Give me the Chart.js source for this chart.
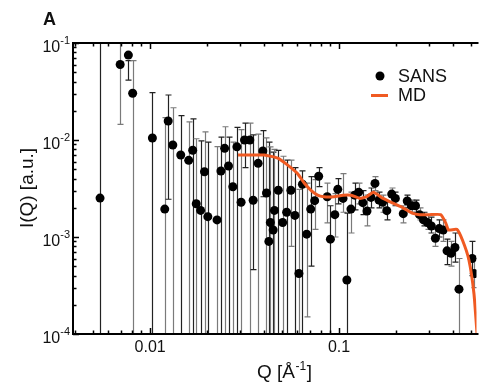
<!DOCTYPE html>
<html>
<head>
<meta charset="utf-8">
<script src="https://cdn.jsdelivr.net/npm/chart.js@4"></script>
<style>
html, body { margin: 0; padding: 0; background: #fff; }
</style>
</head>
<body>
<canvas id="sansChart" width="481" height="385"></canvas>
<script>
// SANS points: Q, intensity, lower / upper end of error bar (null = runs off the axis)
const qSans = [0.00543, 0.00694, 0.00767, 0.00808, 0.01028, 0.01195, 0.01246, 0.01318, 0.01452, 0.0160,
    0.0168, 0.01754, 0.0185, 0.0194, 0.0202, 0.0226, 0.0237, 0.0248, 0.026, 0.0274,
    0.0288, 0.0303, 0.0316, 0.0337, 0.0351, 0.0373, 0.0395, 0.0413, 0.0425, 0.0433,
    0.0448, 0.0455, 0.0477, 0.0503, 0.0528, 0.0556, 0.0584, 0.0613, 0.064, 0.0674,
    0.0708, 0.0743, 0.078, 0.0866, 0.09, 0.095, 0.0985, 0.105, 0.110, 0.1156,
    0.121, 0.127, 0.1336, 0.1406, 0.1476, 0.155, 0.1626, 0.17, 0.179, 0.19,
    0.1987, 0.2188, 0.2296, 0.242, 0.254, 0.2667, 0.28, 0.294, 0.308, 0.3236,
    0.339, 0.356, 0.373, 0.392, 0.411, 0.4315, 0.507, 0.52];
const iSans = [0.00252, 0.060, 0.075, 0.0303, 0.0105, 0.00194, 0.0157, 0.00888, 0.0070, 0.00617,
    0.00783, 0.0022, 0.00188, 0.00471, 0.00162, 0.0015, 0.00479, 0.0082, 0.0054, 0.0033,
    0.0085, 0.00228, 0.0100, 0.0100, 0.00239, 0.00575, 0.0077, 0.00284, 0.0009, 0.00141,
    0.00118, 0.00188, 0.00303, 0.00141, 0.0018, 0.00303, 0.00167, 0.00042, 0.0035, 0.00107,
    0.00194, 0.00237, 0.00423, 0.0026, 0.00095, 0.0017, 0.0031, 0.0025, 0.00036, 0.00194,
    0.0027, 0.0029, 0.00226, 0.00185, 0.00256, 0.00357, 0.0024, 0.00228, 0.00187, 0.00277,
    0.0025, 0.00174, 0.00235, 0.0021, 0.0021, 0.0017, 0.0015, 0.00141, 0.0013, 0.00097,
    0.00122, 0.00118, 0.00072, 0.00068, 0.00078, 0.00029, 0.0006, 0.00042];
const iLow = [null, 0.0145, 0.0415, null, null, null, 0.00245, null, null, null,
    null, null, null, null, null, null, null, null, null, null,
    null, null, 0.0052, null, 0.00046, null, 0.0026, null, null, null,
    null, null, null, null, null, 0.0008, null, null, null, 0.00015,
    0.0005, 0.0012, 0.0033, 0.0014, null, 0.0010, 0.0022, 0.0018, null, 0.0011,
    0.0019, 0.0022, 0.0017, 0.0013, 0.0020, 0.0030, 0.0020, 0.0018, 0.0015, 0.0023,
    0.0021, 0.0014, 0.0020, 0.0018, 0.0018, 0.0015, 0.0013, 0.0012, 0.0011, 0.0008,
    0.0010, 0.0009, 0.00052, 0.0005, 0.00055, null, 0.0004, 0.0003];
const iHigh = [null, null, 0.0657, 0.0657, 0.0308, 0.017, 0.0291, 0.0215, 0.0178, 0.0154,
    0.0165, 0.0103, 0.0098, 0.0121, 0.0095, 0.00853, 0.0107, 0.0137, 0.0107, 0.0095,
    0.0135, 0.0128, 0.0149, 0.0149, 0.0113, 0.0115, 0.0125, 0.0105, 0.0095, 0.0085,
    0.0075, 0.008, 0.0078, 0.0068, 0.0062, 0.0062, 0.0052, 0.0031, 0.0048, 0.0036,
    0.0042, 0.0039, 0.0052, 0.0036, 0.0021, 0.0028, 0.0040, 0.0045, 0.00176, 0.0029,
    0.0036, 0.0036, 0.0030, 0.0027, 0.0032, 0.0042, 0.0029, 0.0027, 0.0023, 0.0032,
    0.0029, 0.0021, 0.0027, 0.0024, 0.0024, 0.0020, 0.0018, 0.0017, 0.0016, 0.0012,
    0.0015, 0.0015, 0.00095, 0.0009, 0.0011, 0.0006, 0.0009, 0.0006];

// MD curve
const qMd = [0.0292, 0.035, 0.0402, 0.0474, 0.0535, 0.0603, 0.0654, 0.0708, 0.077, 0.083,
    0.094, 0.105, 0.116, 0.129, 0.140, 0.152, 0.171, 0.193, 0.218, 0.246,
    0.267, 0.30, 0.345, 0.367, 0.38, 0.42, 0.45, 0.487, 0.518, 0.54];
const iMd = [0.0070, 0.0070, 0.0070, 0.0065, 0.0055, 0.0045, 0.0036, 0.00305, 0.0027, 0.0026,
    0.0026, 0.0027, 0.0027, 0.0025, 0.0026, 0.0029, 0.0025, 0.00223, 0.0020, 0.00175,
    0.0017, 0.0017, 0.0017, 0.0014, 0.00118, 0.0012, 0.00093, 0.00058, 0.00026, 0.00009];

const yTickExp = [-1, -2, -3, -4];
const xTickLabels = [0.01, 0.1];

const orange = 'rgb(240,90,34)';
const fontFam = '"Liberation Sans", Arial, sans-serif';

const errorBars = {
    id: 'errorBars',
    beforeDatasetsDraw(chart) {
        const ctx = chart.ctx, a = chart.chartArea;
        const xs = chart.scales.x, ys = chart.scales.y;
        ctx.save();
        ctx.beginPath();
        ctx.rect(a.left, a.top, a.right - a.left, a.bottom - a.top);
        ctx.clip();
        ctx.lineWidth = 1.2;
        qSans.forEach((q, i) => {
            const px = Math.round(xs.getPixelForValue(q)) + 0.5;
            const yTop = iHigh[i] === null ? a.top - 2 : ys.getPixelForValue(iHigh[i]);
            const yBot = iLow[i] === null ? a.bottom + 2 : ys.getPixelForValue(iLow[i]);
            ctx.strokeStyle = i % 2 ? '#7a7a7a' : '#222';
            ctx.beginPath();
            ctx.moveTo(px, yTop);
            ctx.lineTo(px, yBot);
            if (iHigh[i] !== null) { ctx.moveTo(px - 3, yTop); ctx.lineTo(px + 3, yTop); }
            if (iLow[i] !== null) { ctx.moveTo(px - 3, yBot); ctx.lineTo(px + 3, yBot); }
            ctx.stroke();
        });
        ctx.restore();
    }
};

const frame = {
    id: 'frame',
    afterDraw(chart) {
        const ctx = chart.ctx, a = chart.chartArea;
        const xs = chart.scales.x, ys = chart.scales.y;
        ctx.save();
        ctx.strokeStyle = '#000';
        ctx.lineWidth = 2;
        ctx.beginPath();
        ctx.moveTo(a.right + 2, a.top);
        ctx.lineTo(a.left, a.top);
        ctx.lineTo(a.left, a.bottom);
        ctx.lineTo(a.right + 2, a.bottom);
        ctx.stroke();

        // inward ticks
        ctx.lineWidth = 1.5;
        ctx.beginPath();
        for (let d = -3; d <= 0; d++) {
            for (let m = 1; m <= 9; m++) {
                const v = m * Math.pow(10, d);
                if (v < xs.min || v > xs.max) continue;
                const px = Math.round(xs.getPixelForValue(v)) + 0.5;
                const len = m === 1 ? 6 : 3.5;
                ctx.moveTo(px, a.bottom); ctx.lineTo(px, a.bottom - len);
                ctx.moveTo(px, a.top); ctx.lineTo(px, a.top + len);
            }
        }
        for (let d = -4; d <= -1; d++) {
            for (let m = 1; m <= 9; m++) {
                const v = m * Math.pow(10, d);
                if (v < ys.min * 0.999 || v > ys.max * 1.001) continue;
                const py = Math.round(ys.getPixelForValue(v)) + 0.5;
                const len = m === 1 ? 6 : 3.5;
                ctx.moveTo(a.left, py); ctx.lineTo(a.left + len, py);
            }
        }
        ctx.stroke();

        ctx.fillStyle = '#111';
        // y tick labels 10^n
        yTickExp.forEach(e => {
            const py = ys.getPixelForValue(Math.pow(10, e));
            const sup = String(e);
            ctx.font = '11px ' + fontFam;
            const supW = ctx.measureText(sup).width;
            ctx.font = '16px ' + fontFam;
            const tenW = ctx.measureText('10').width;
            const right = 70;
            ctx.textAlign = 'left';
            ctx.textBaseline = 'middle';
            ctx.fillText('10', right - supW - tenW, py + 5);
            ctx.font = '11px ' + fontFam;
            ctx.fillText(sup, right - supW, py - 2);
        });

        // x tick labels
        ctx.font = '16px ' + fontFam;
        ctx.textAlign = 'center';
        ctx.textBaseline = 'middle';
        xTickLabels.forEach(v => {
            ctx.fillText(String(v), xs.getPixelForValue(v), 348);
        });

        // x title: Q [Å^-1]
        ctx.font = '19px ' + fontFam;
        const part1 = 'Q [Å', part3 = ']';
        const w1 = ctx.measureText(part1).width, w3 = ctx.measureText(part3).width;
        ctx.font = '12px ' + fontFam;
        const w2 = ctx.measureText('-1').width;
        let x0 = 284 - (w1 + w2 + w3) / 2;
        ctx.textAlign = 'left';
        ctx.font = '19px ' + fontFam;
        ctx.fillText(part1, x0, 373);
        ctx.font = '12px ' + fontFam;
        ctx.fillText('-1', x0 + w1 + 0.5, 367);
        ctx.font = '19px ' + fontFam;
        ctx.fillText(part3, x0 + w1 + w2 + 1, 373);

        // y title
        ctx.save();
        ctx.translate(28, 188);
        ctx.rotate(-Math.PI / 2);
        ctx.textAlign = 'center';
        ctx.fillText('I(Q) [a.u.]', 0, 0);
        ctx.restore();

        // panel letter
        ctx.font = 'bold 18px ' + fontFam;
        ctx.textAlign = 'left';
        ctx.fillText('A', 43, 20);

        // legend
        ctx.fillStyle = '#000';
        ctx.beginPath();
        ctx.arc(380, 76, 4.5, 0, Math.PI * 2);
        ctx.fill();
        ctx.strokeStyle = orange;
        ctx.lineWidth = 3;
        ctx.beginPath();
        ctx.moveTo(371, 95.5);
        ctx.lineTo(388, 95.5);
        ctx.stroke();
        ctx.fillStyle = '#111';
        ctx.font = '18px ' + fontFam;
        ctx.textBaseline = 'middle';
        ctx.fillText('SANS', 398, 77);
        ctx.fillText('MD', 398, 96);
        ctx.restore();
    }
};

const chartConfig = {
    type: 'scatter',
    data: {
        datasets: [
            {
                label: 'MD',
                type: 'line',
                data: qMd.map((q, i) => ({ x: q, y: iMd[i] })),
                borderColor: orange,
                backgroundColor: orange,
                borderWidth: 3,
                pointRadius: 0,
                tension: 0.15,
                fill: false,
                order: 0
            },
            {
                label: 'SANS',
                data: qSans.map((q, i) => ({ x: q, y: iSans[i] })),
                backgroundColor: '#000',
                borderWidth: 0,
                pointRadius: 4.5,
                order: 1
            }
        ]
    },
    options: {
        responsive: false,
        animation: false,
        devicePixelRatio: 1,
        layout: { padding: { left: 73, top: 43, right: 0, bottom: 51 } },
        plugins: {
            legend: { display: false },
            tooltip: { enabled: false }
        },
        scales: {
            x: { type: 'logarithmic', min: 0.003905, max: 0.5342, display: false },
            y: { type: 'logarithmic', min: 1e-4, max: 1e-1, display: false }
        }
    },
    plugins: [errorBars, frame]
};

let chartID = document.getElementById('sansChart');
let chart = new Chart(chartID, chartConfig);
</script>
</body>
</html>
